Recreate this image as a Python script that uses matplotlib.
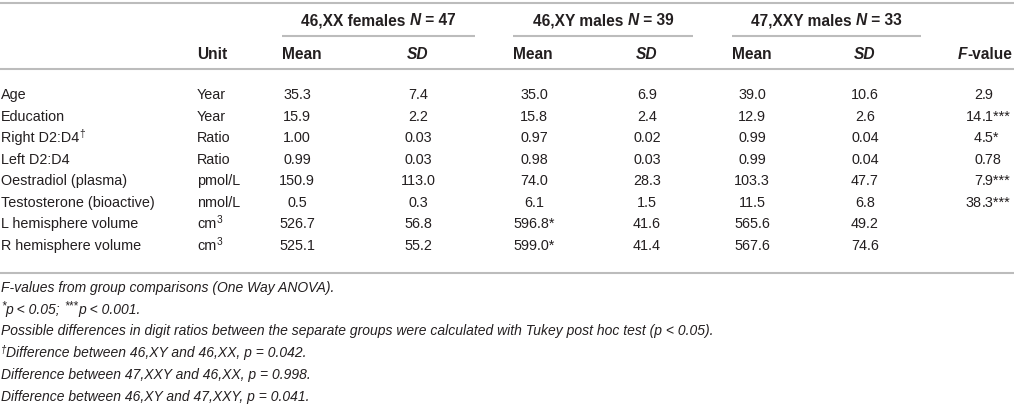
import matplotlib
matplotlib.use("Agg")
import matplotlib.pyplot as plt

plt.rcParams['font.family'] = ['Liberation Sans', 'DejaVu Sans']

groups = [("46,XX females ", "N", " = 47"), ("46,XY males ", "N", " = 39"),
          ("47,XXY males ", "N", " = 33")]
variables = ["Age", "Education", "Right D2:D4", "Left D2:D4",
             "Oestradiol (plasma)", "Testosterone (bioactive)",
             "L hemisphere volume", "R hemisphere volume"]
var_sup = ["", "", "\u2020", "", "", "", "", ""]
units = ["Year", "Year", "Ratio", "Ratio", "pmol/L", "nmol/L", "cm", "cm"]
unit_sup = ["", "", "", "", "", "", "3", "3"]
xx_mean = ["35.3", "15.9", "1.00", "0.99", "150.9", "0.5", "526.7", "525.1"]
xx_sd = ["7.4", "2.2", "0.03", "0.03", "113.0", "0.3", "56.8", "55.2"]
xy_mean = ["35.0", "15.8", "0.97", "0.98", "74.0", "6.1", "596.8*", "599.0*"]
xy_sd = ["6.9", "2.4", "0.02", "0.03", "28.3", "1.5", "41.6", "41.4"]
xxy_mean = ["39.0", "12.9", "0.99", "0.99", "103.3", "11.5", "565.6", "567.6"]
xxy_sd = ["10.6", "2.6", "0.04", "0.04", "47.7", "6.8", "49.2", "74.6"]
f_values = ["2.9", "14.1***", "4.5*", "0.78", "7.9***", "38.3***", "", ""]
# footnotes as (text, superscript?) pieces
notes = [
    [("F-values from group comparisons (One Way ANOVA).", False)],
    [("*", True), ("p < 0.05; ", False), ("***", True), ("p < 0.001.", False)],
    [("Possible differences in digit ratios between the separate groups were "
      "calculated with Tukey post hoc test (p < 0.05).", False)],
    [("\u2020", True), ("Difference between 46,XY and 46,XX, p = 0.042.", False)],
    [("Difference between 47,XXY and 46,XX, p = 0.998.", False)],
    [("Difference between 46,XY and 47,XXY, p = 0.041.", False)],
]

W, H = 1014, 409
fig = plt.figure(figsize=(W / 100, H / 100), dpi=100)
ax = fig.add_axes([0, 0, 1, 1])
ax.set_xlim(0, W)
ax.set_ylim(H, 0)
ax.axis('off')
renderer = fig.canvas.get_renderer()

txt = '#231f20'
line_c = '#bcbcbc'
fs = 10.4
hfs = 11.2
nfs = 10.0


def runs(x, y, parts, ha='left'):
    # parts: list of (text, kwargs, dy); draws pieces one after another
    objs = []
    for s, kw, dy in parts:
        t = ax.text(0, y + dy, s, ha='left', va='baseline', color=txt, **kw)
        objs.append(t)
    widths = [t.get_window_extent(renderer).width for t in objs]
    total = sum(widths)
    if ha == 'center':
        x = x - total / 2
    elif ha == 'right':
        x = x - total
    for t, w in zip(objs, widths):
        t.set_x(x)
        x += w


# rules
for yy in [3, 69, 273]:
    ax.plot([0, W], [yy, yy], color=line_c, lw=1.5, solid_capstyle='butt')

group_span = [(282, 475), (513, 693), (732, 921)]
mean_x = [297, 534, 752]
sd_x = [418, 647, 865]
bold = dict(fontsize=hfs, fontweight='bold')
bolditalic = dict(fontsize=hfs, fontweight='bold', fontstyle='italic')
for (g0, g1, g2), (a, b), mx, sx in zip(groups, group_span, mean_x, sd_x):
    runs((a + b) / 2, 25, [(g0, bold, 0), (g1, bolditalic, 0), (g2, bold, 0)], ha='center')
    ax.plot([a, b], [36, 36], color=line_c, lw=1.5, solid_capstyle='butt')
    ax.text(a + 20, 59, "Mean", ha='center', va='baseline', color=txt, **bold)
    ax.text(sx, 59, "SD", ha='center', va='baseline', color=txt, **bolditalic)
ax.text(197, 59, "Unit", ha='left', va='baseline', color=txt, **bold)
runs(1012, 59, [("F", bolditalic, 0), ("-value", bold, 0)], ha='right')

cols = [xx_mean, xx_sd, xy_mean, xy_sd, xxy_mean, xxy_sd]
col_x = [mean_x[0], sd_x[0], mean_x[1], sd_x[1], mean_x[2], sd_x[2]]
dec_x = 982
body = dict(fontsize=fs)
sup = dict(fontsize=fs * 0.7)
for i, var in enumerate(variables):
    y = 99 + i * 21.55
    runs(1, y, [(var, body, 0), (var_sup[i], sup, -5)])
    runs(197, y, [(units[i], body, 0), (unit_sup[i], sup, -5)])
    for col, cx in zip(cols, col_x):
        ax.text(cx, y, col[i], ha='center', va='baseline', color=txt, **body)
    f = f_values[i]
    if f:
        whole, frac = f.split('.')
        ax.text(dec_x, y, whole, ha='right', va='baseline', color=txt, **body)
        ax.text(dec_x, y, '.' + frac, ha='left', va='baseline', color=txt, **body)

note_kw = dict(fontsize=nfs, fontstyle='italic')
for i, parts in enumerate(notes):
    y = 292 + i * 21.7
    pieces = []
    for s, is_sup in parts:
        if is_sup:
            scale = 0.85 if '*' in s else 0.7
            pieces.append((s, dict(fontsize=nfs * scale, fontstyle='italic'), -4))
        else:
            pieces.append((s, note_kw, 0))
    runs(1, y, pieces)

fig.savefig('out.png', dpi=100)
